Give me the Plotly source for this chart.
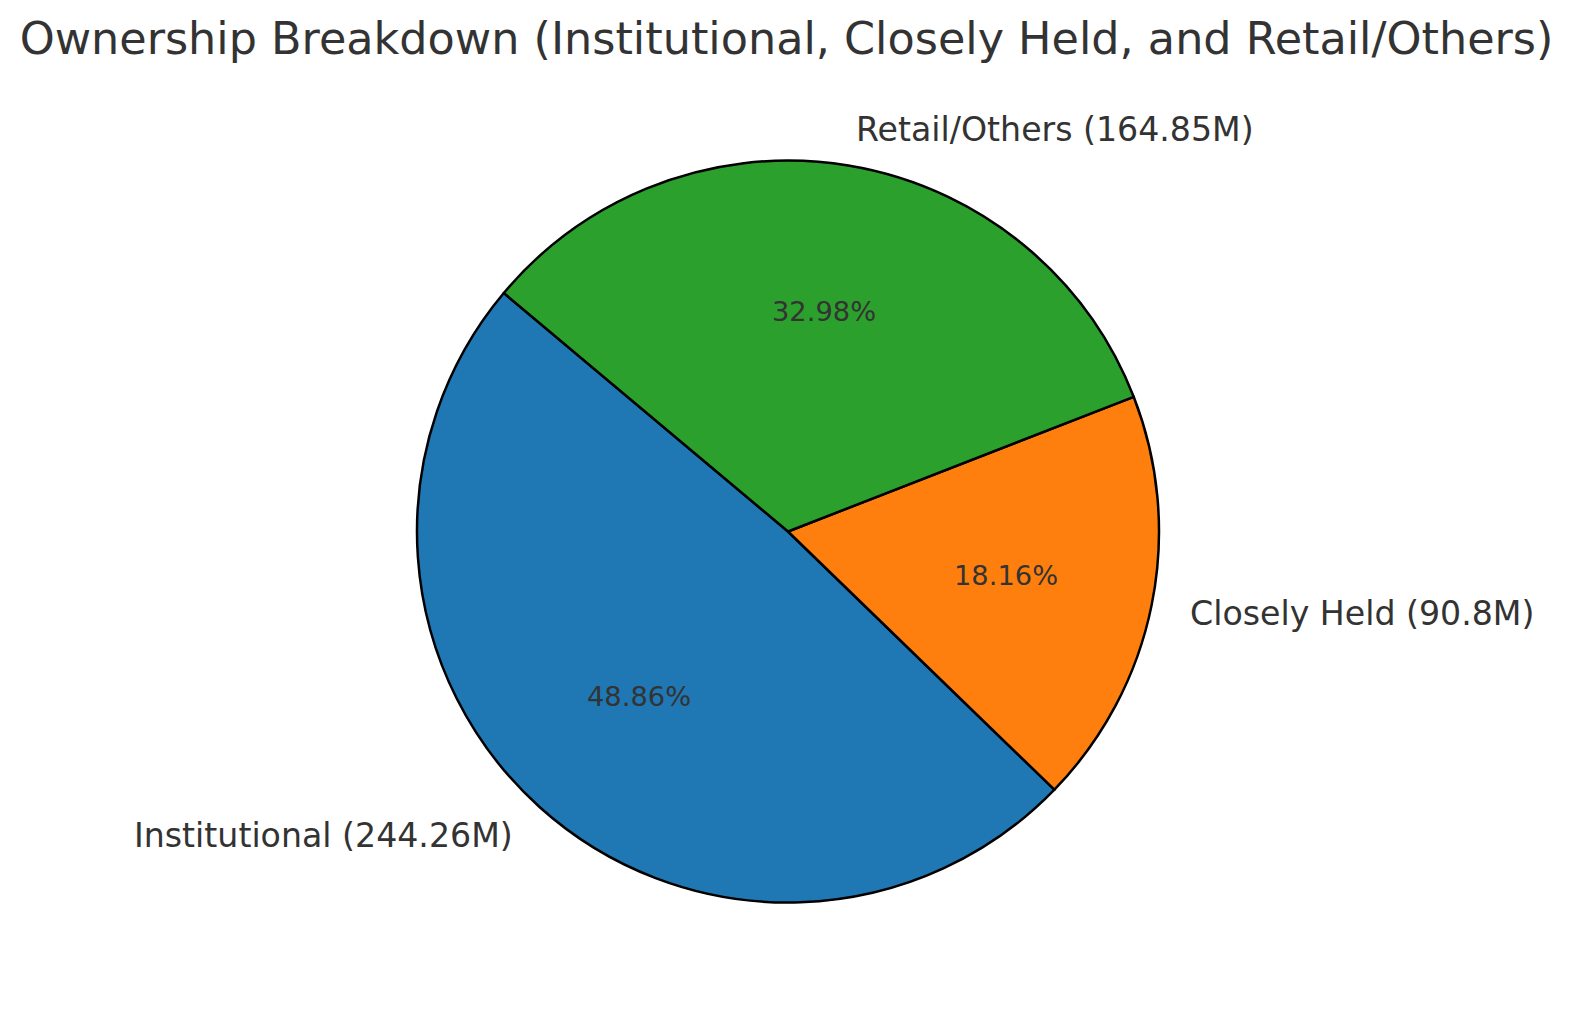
import math
import plotly.graph_objects as go

categories = ["Institutional", "Closely Held", "Retail/Others"]
values_m = [244.26, 90.8, 164.85]
label_texts = ["Institutional (244.26M)", "Closely Held (90.8M)", "Retail/Others (164.85M)"]
colors = ["#1f77b4", "#ff7f0e", "#2ca02c"]

W, H = 1573, 1014
OFF = 8.0                          # browser default body margin
CX, CY, R = 788.0 - OFF, 531.5 - OFF, 371.0   # pie centre / radius in px
START = 140.0                      # start angle (deg, ccw from 3 o'clock)
FONT = "DejaVu Sans"
TXT = "#333333"

def px_to_paper(x, y):
    return x / W, 1 - y / H

total = sum(values_m)
# plotly (counterclockwise) puts the END of the first slice at `rotation`
rotation = 90 - START - 360 * values_m[0] / total

fig = go.Figure()
fig.add_trace(go.Pie(
    labels=categories, values=values_m, sort=False,
    direction="counterclockwise", rotation=rotation,
    marker=dict(colors=colors, line=dict(color="black", width=2.5)),
    textinfo="none", hoverinfo="label+value+percent", showlegend=False,
    domain=dict(x=[(CX - R) / W, (CX + R) / W], y=[(H - CY - R) / H, (H - CY + R) / H]),
))

ang = START
for lab, v in zip(label_texts, values_m):
    frac = v / total
    span = 360 * frac
    mid = math.radians(ang + span / 2)
    ang += span
    lx, ly = CX + 1.1 * R * math.cos(mid), CY - 1.1 * R * math.sin(mid) + 1
    px, py = px_to_paper(lx, ly)
    fig.add_annotation(x=px, y=py, xref="paper", yref="paper", text=lab, showarrow=False,
                       xanchor="left" if math.cos(mid) > 0 else "right", yanchor="middle",
                       font=dict(family=FONT, size=33.2, color=TXT))
    tx, ty = CX + 0.6 * R * math.cos(mid), CY - 0.6 * R * math.sin(mid)
    qx, qy = px_to_paper(tx, ty)
    fig.add_annotation(x=qx, y=qy, xref="paper", yref="paper", text=f"{frac*100:.2f}%",
                       showarrow=False, xanchor="center", yanchor="middle",
                       font=dict(family=FONT, size=27.3, color=TXT))

tx_title, ty_title = px_to_paper(786.5 - OFF, 38 - OFF)
fig.update_layout(
    width=W, height=H, margin=dict(l=0, r=0, t=0, b=0),
    paper_bgcolor="white", plot_bgcolor="white",
    title=dict(text="Ownership Breakdown (Institutional, Closely Held, and Retail/Others)",
               x=tx_title, xanchor="center", y=ty_title, yanchor="middle",
               font=dict(family=FONT, size=44.5, color=TXT)),
)
fig.write_html("out.html")
